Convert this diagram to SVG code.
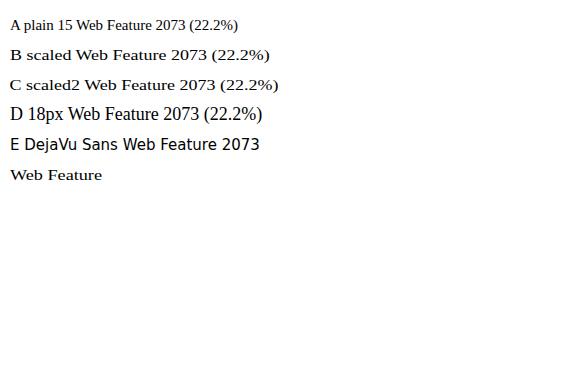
<svg xmlns="http://www.w3.org/2000/svg" width="577" height="370" viewBox="0 0 577 370">
<rect width="577" height="370" fill="#ffffff"/>
<g font-family="'Liberation Serif', serif" font-size="15">
<text x="10" y="30">A plain 15 Web Feature 2073 (22.2%)</text>
<g transform="translate(10 0) scale(1.2 1)"><text x="0" y="60">B scaled Web Feature 2073 (22.2%)</text></g>
<g transform="scale(1.2 1)"><text x="8" y="90">C scaled2 Web Feature 2073 (22.2%)</text></g>
<text x="10" y="120" font-size="18">D 18px Web Feature 2073 (22.2%)</text>
<text x="10" y="150" font-family="DejaVu Sans">E DejaVu Sans Web Feature 2073</text>
<text x="10" y="180" font-size="15" textLength="92" lengthAdjust="spacingAndGlyphs">Web Feature</text>
</g>
</svg>
